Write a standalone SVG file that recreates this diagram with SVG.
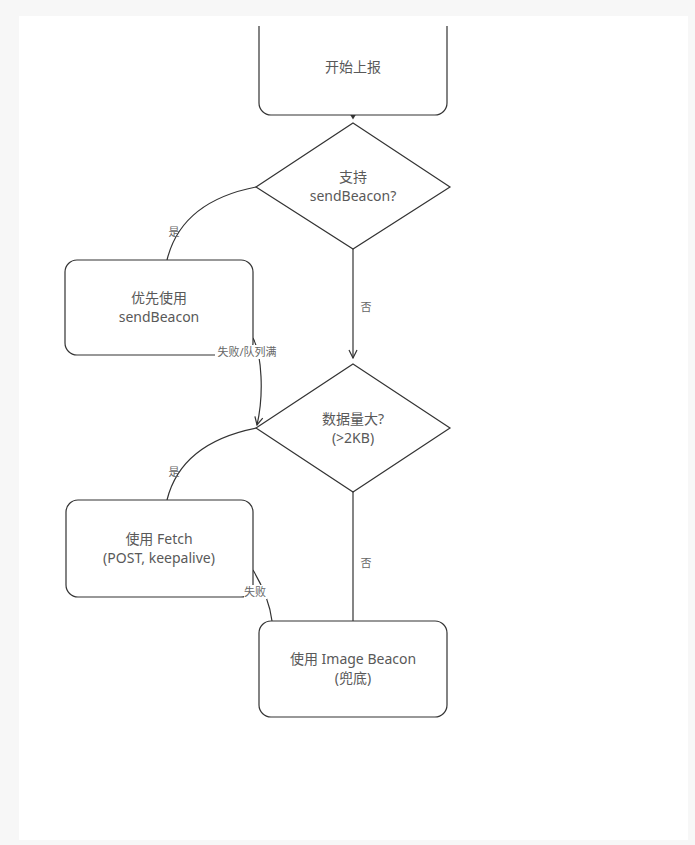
<svg xmlns="http://www.w3.org/2000/svg" width="695" height="845" viewBox="0 0 695 845">
<style>
.node{fill:#fff;stroke:#333;stroke-width:1.2}
.edge{fill:none;stroke:#333;stroke-width:1.2}
.t{font-family:"Noto Sans","Noto Sans CJK SC",sans-serif;font-size:14px;fill:#595959;text-anchor:middle}
.l{font-family:"Noto Sans","Noto Sans CJK SC",sans-serif;font-size:11px;fill:#666;text-anchor:middle}
.bg{fill:#fff}
</style>
<defs>
<marker id="open" viewBox="0 0 10 10" refX="9" refY="5" markerWidth="10" markerHeight="10" markerUnits="userSpaceOnUse" orient="auto">
<path d="M1,1 L9,5 L1,9" fill="none" stroke="#333" stroke-width="1.2"/>
</marker>
<clipPath id="clipTop"><rect x="19" y="26" width="669" height="814"/></clipPath>
</defs>
<rect x="0" y="0" width="695" height="845" fill="#f7f7f7"/>
<rect x="19" y="16" width="669" height="824" fill="#fff"/>

<g id="connectors">
<polygon points="350,114.5 356,114.5 353,119.5" fill="#333"/>
<path class="edge" d="M256,187 C215,195 178,215 167,260"/>
<path class="edge" d="M353,249 L353,358" marker-end="url(#open)"/>
<path class="edge" d="M253,338 C262,355 264,395 257,425" marker-end="url(#open)"/>
<path class="edge" d="M257,428 C216,436 178,456 167,500"/>
<path class="edge" d="M353,492 L353,621"/>
<path class="edge" d="M253,570 C262,585 270,605 272,621"/>
</g>

<g id="start">
<rect class="node" x="259" y="0" width="188" height="115" rx="12" clip-path="url(#clipTop)"/>
<text class="t" x="353" y="72">开始上报</text>
</g>

<g id="decision-sendbeacon">
<polygon class="node" points="353,123 450,187 353,249 256,187"/>
<text class="t" x="353" y="181.5">支持</text>
<text class="t" x="353" y="200.5">sendBeacon?</text>
</g>

<g id="use-sendbeacon">
<rect class="node" x="65" y="260" width="188" height="95" rx="12"/>
<text class="t" x="159" y="303">优先使用</text>
<text class="t" x="159" y="322">sendBeacon</text>
</g>

<g id="decision-size">
<polygon class="node" points="353,364 450,428 353,492 256,428"/>
<text class="t" x="353" y="424">数据量大?</text>
<text class="t" x="353" y="443">(&gt;2KB)</text>
</g>

<g id="use-fetch">
<rect class="node" x="66" y="500" width="187" height="97" rx="12"/>
<text class="t" x="159" y="543.5">使用 Fetch</text>
<text class="t" x="159" y="562.5">(POST, keepalive)</text>
</g>

<g id="use-image">
<rect class="node" x="259" y="621" width="188" height="96" rx="12"/>
<text class="t" x="353" y="664">使用 Image Beacon</text>
<text class="t" x="353" y="683">(兜底)</text>
</g>

<g id="labels">
<text class="l" x="174" y="236">是</text>
<text class="l" x="366" y="311">否</text>
<rect class="bg" x="215" y="345" width="64" height="14"/>
<text class="l" x="247" y="356">失败/队列满</text>
<text class="l" x="174" y="476">是</text>
<text class="l" x="366" y="567">否</text>
<rect class="bg" x="244" y="585" width="23" height="14"/>
<text class="l" x="255" y="596">失败</text>
</g>
</svg>
